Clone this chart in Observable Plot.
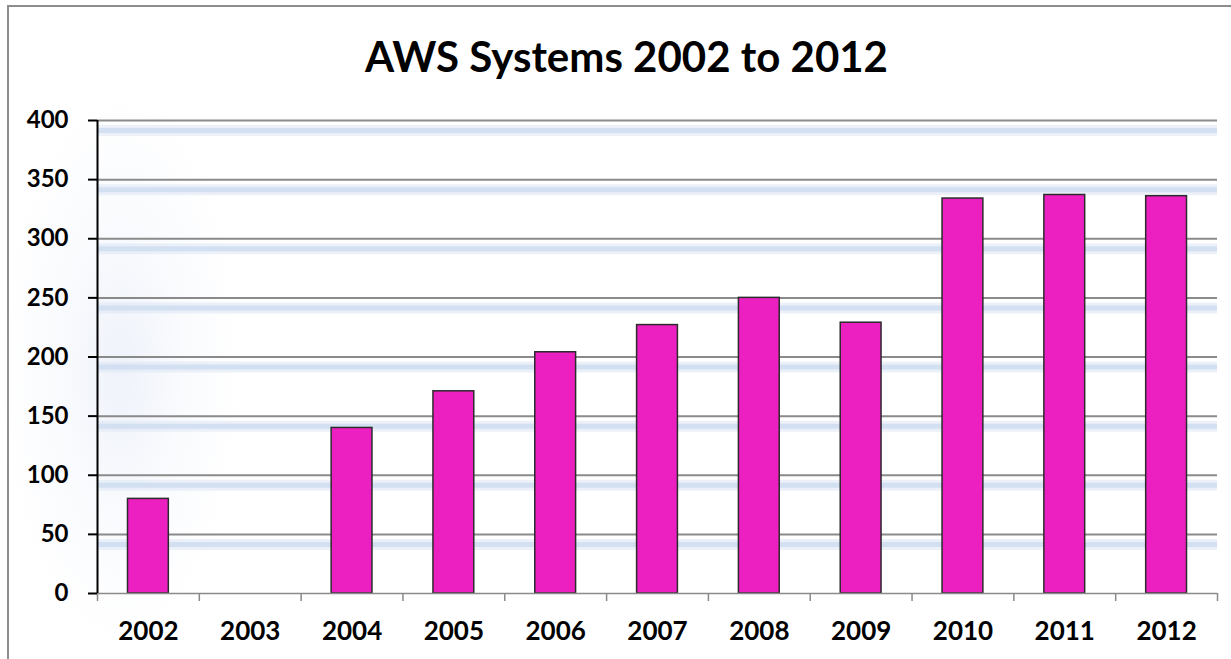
<!DOCTYPE html>
<html>
<head>
<meta charset="utf-8">
<script src="https://cdn.jsdelivr.net/npm/d3@7"></script>
<script src="https://cdn.jsdelivr.net/npm/@observablehq/plot@0.6"></script>
<style>
  html, body { margin: 0; padding: 0; background: #ffffff; overflow: hidden; width: 1231px; height: 659px; }
  #frame { position: absolute; left: 7px; top: 5px; width: 1400px; height: 800px;
           border-left: 2px solid #8d8d8d; border-top: 2px solid #8d8d8d; }
  #glow { position: absolute; left: 0px; top: 90px; width: 240px; height: 560px;
          background: radial-gradient(ellipse 50% 50% at 50% 50%, rgba(228,234,247,0.6) 0%, rgba(240,244,251,0.35) 55%, rgba(255,255,255,0) 100%); }
  #title { position: absolute; left: 0; top: 35px; width: 1253px; text-align: center;
           font-family: Lato, "Open Sans", sans-serif; font-weight: bold; font-size: 42px; line-height: 1; color: #000; }
  #chart { position: absolute; left: 0; top: 0; }
</style>
</head>
<body>
<div id="frame"></div>
<div id="glow"></div>
<div id="title">AWS Systems 2002 to 2012</div>
<div id="chart"></div>
<script>
const years = ["2002","2003","2004","2005","2006","2007","2008","2009","2010","2011","2012"];
const values = [80, null, 140, 171, 204, 227, 250, 229, 334, 337, 336];
const yTicks = [0, 50, 100, 150, 200, 250, 300, 350, 400];

const data = years.map((year, i) => ({i, year, value: values[i]}));
const bars = data.filter(d => d.value != null);
const boundaries = d3.range(years.length + 1);

const chart = Plot.plot({
  width: 1231,
  height: 659,
  marginLeft: 97,
  marginRight: 14,
  marginTop: 120,
  marginBottom: 66,
  style: {fontFamily: "Lato, 'Open Sans', sans-serif", fontWeight: "bold", fontSize: "24px", color: "#000", background: "transparent", overflow: "visible"},
  x: {type: "linear", domain: [0, years.length], axis: null},
  y: {domain: [0, 400], axis: null},
  marks: [
    // soft blue shadow under each gridline
    Plot.ruleY(yTicks.filter(d => d > 0), {dy: 10, stroke: "#dfe8f5", strokeWidth: 11, strokeOpacity: 0.6}),
    Plot.ruleY(yTicks.filter(d => d > 0), {dy: 10, stroke: "#cddcf0", strokeWidth: 5, strokeOpacity: 0.8}),
    // gridlines
    Plot.ruleY(yTicks.filter(d => d > 0), {stroke: "#8a8a8a", strokeWidth: 2}),
    // bars
    Plot.rectY(bars, {x1: d => d.i, x2: d => d.i + 1, y: "value", insetLeft: 30.5, insetRight: 30.5,
      fill: "#ec20c0", stroke: "#2b2b2b", strokeWidth: 1.5}),
    // baseline
    Plot.ruleY([0], {stroke: "#8a8a8a", strokeWidth: 1.5}),
    // category boundary ticks
    Plot.axisX(boundaries, {anchor: "bottom", tickSize: 8, tickFormat: () => "", stroke: "#8a8a8a", strokeWidth: 1.5, label: null}),
    // category labels
    Plot.text(data, {x: d => d.i + 0.5, text: "year", frameAnchor: "bottom", dy: 46, fontSize: 26, fontWeight: "bold", fill: "#000"}),
    // y axis line
    Plot.ruleX([0], {stroke: "#000", strokeWidth: 2}),
    // y axis
    Plot.axisY(yTicks, {anchor: "left", tickSize: 9, tickPadding: 20, stroke: "#000", strokeWidth: 2, fontSize: 24, fontWeight: "bold", label: null})
  ]
});
document.getElementById("chart").appendChild(chart);
</script>
</body>
</html>
